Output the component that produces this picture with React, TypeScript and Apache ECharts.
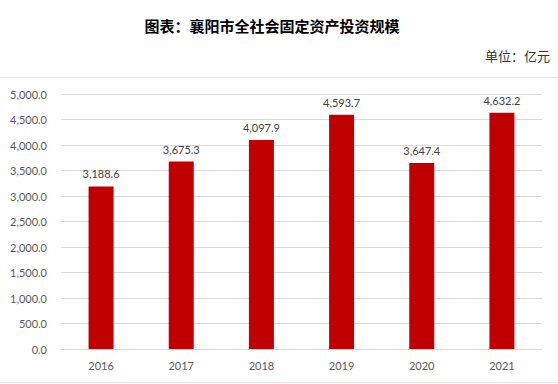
import React, { useEffect, useRef } from "react";
import * as echarts from "echarts";

const years = ["2016", "2017", "2018", "2019", "2020", "2021"];
const investment = [3188.6, 3675.3, 4097.9, 4593.7, 3647.4, 4632.2];
const titleText = "图表：襄阳市全社会固定资产投资规模";
const unitText = "单位：亿元";

const fmt = (v: number) =>
  v.toLocaleString("en-US", { minimumFractionDigits: 1, maximumFractionDigits: 1 });

export default function App() {
  const ref = useRef<HTMLDivElement>(null);
  useEffect(() => {
    if (!ref.current) return;
    const chart = echarts.init(ref.current, null, { renderer: "svg" });
    chart.setOption({
      animation: false,
      backgroundColor: "#ffffff",
      title: {
        text: titleText,
        left: 267,
        top: 13,
        textAlign: "center",
        textStyle: {
          fontFamily: "Noto Sans CJK SC",
          fontSize: 15,
          fontWeight: "bold",
          color: "#000000",
        },
      },
      graphic: [
        {
          type: "text",
          right: 8,
          top: 49,
          style: {
            text: unitText,
            font: "13px 'Noto Sans CJK SC'",
            fill: "#333333",
          },
        },
        {
          type: "line",
          shape: { x1: 0, y1: 77.5, x2: 558, y2: 77.5 },
          style: { stroke: "#e6e6e6", lineWidth: 1 },
        },
        {
          type: "line",
          shape: { x1: 0, y1: 382.5, x2: 558, y2: 382.5 },
          style: { stroke: "#e6e6e6", lineWidth: 1 },
        },
      ],
      grid: { left: 61, right: 16, top: 94, bottom: 35 },
      xAxis: {
        type: "category",
        data: years,
        axisLine: { lineStyle: { color: "#d9d9d9", width: 1 } },
        axisTick: { show: false },
        axisLabel: { color: "#595959", fontSize: 11, fontFamily: "Lato", margin: 11 },
      },
      yAxis: {
        type: "value",
        min: 0,
        max: 5000,
        interval: 500,
        axisLine: { show: false },
        axisTick: { show: false },
        splitLine: { lineStyle: { color: "#d9d9d9", width: 1 } },
        axisLabel: {
          color: "#595959",
          fontSize: 11,
          fontFamily: "Lato",
          margin: 14,
          formatter: (v: number) => fmt(v),
        },
      },
      series: [
        {
          type: "bar",
          data: investment,
          barWidth: 25,
          itemStyle: { color: "#c00000" },
          label: {
            show: true,
            position: "top",
            distance: 7,
            color: "#404040",
            fontSize: 11,
            fontFamily: "Lato",
            formatter: (p: any) => fmt(p.value),
          },
        },
      ],
    });
    return () => chart.dispose();
  }, []);
  return (
    <div
      ref={ref}
      style={{ position: "fixed", left: 0, top: 0, width: 558, height: 384 }}
    />
  );
}
